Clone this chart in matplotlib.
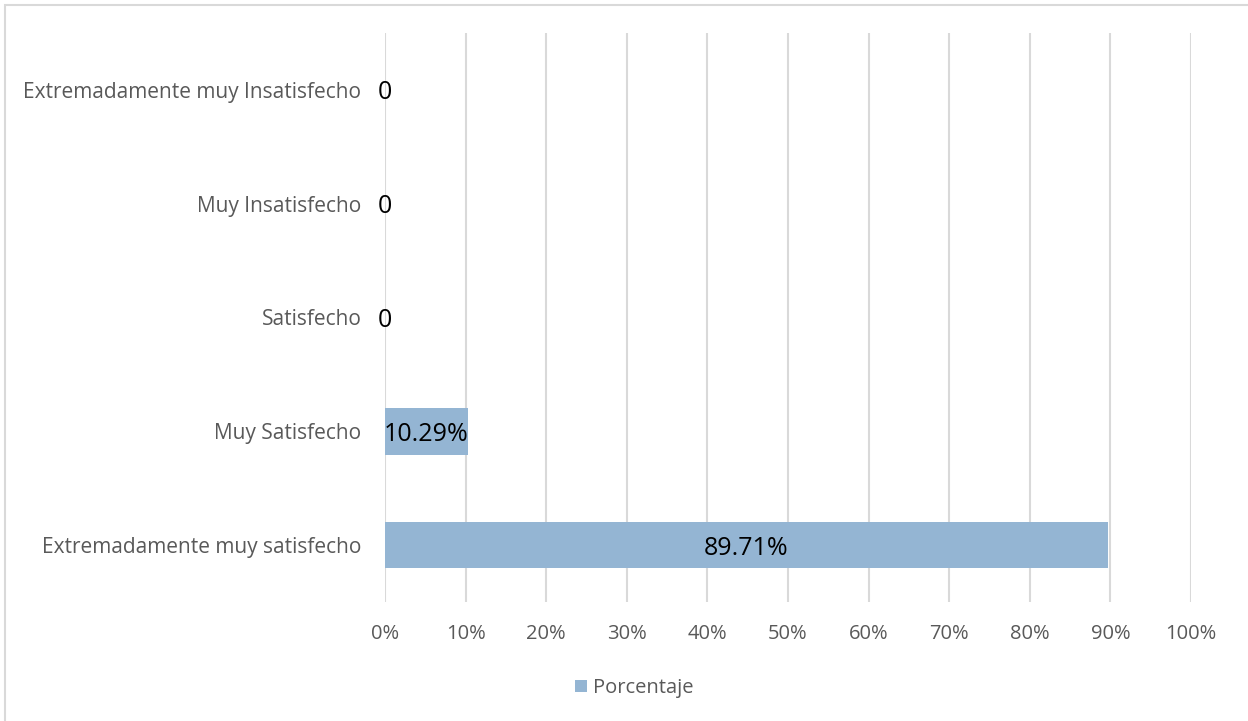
import matplotlib
matplotlib.use("Agg")
import matplotlib.pyplot as plt
from matplotlib.patches import Rectangle
from matplotlib.transforms import offset_copy

categories = ["Extremadamente muy satisfecho", "Muy Satisfecho", "Satisfecho",
              "Muy Insatisfecho", "Extremadamente muy Insatisfecho"]
values = [89.71, 10.29, 0, 0, 0]
labels = ["89.71%", "10.29%", "0", "0", "0"]
xticks = list(range(0, 101, 10))
xtick_labels = [f"{t}%" for t in xticks]
series_name = "Porcentaje"

plt.rcParams['font.family'] = ['Open Sans', 'DejaVu Sans']

fig = plt.figure(figsize=(12.48, 7.21), dpi=100)
ax = fig.add_axes([385/1248, 1-602/721, (1191-385)/1248, (602-33)/721])

bar_color = "#94b5d3"
bars = ax.barh(range(len(categories)), values, height=0.41, color=bar_color, label=series_name, zorder=3)
lab_tr = offset_copy(ax.transData, fig=fig, x=0, y=-3, units="dots")
for i, (v, lab) in enumerate(zip(values, labels)):
    ax.text(v/2, i, lab, ha="center", va="center", fontsize=18, color="black", zorder=4,
            transform=lab_tr)

ax.set_xlim(0, 100)
ax.set_ylim(-0.5, len(categories)-0.5)
ax.set_xticks(xticks)
ax.set_xticklabels(xtick_labels, fontsize=14.5, color="#595959")
ax.set_yticks(range(len(categories)))
ax.set_yticklabels(categories, fontsize=15, color="#595959")
ax.tick_params(axis="both", length=0)
ax.tick_params(axis="x", pad=16)
ax.tick_params(axis="y", pad=17)
ax.grid(axis="x", color="#d9d9d9", linewidth=1.5, zorder=0)
for s in ax.spines.values():
    s.set_visible(False)

leg = fig.legend(handles=[bars], labels=[series_name], loc="center", bbox_to_anchor=(634/1248, 1-688/721),
                 frameon=False, fontsize=14.5, handlelength=0.6, handleheight=0.6, handletextpad=0.3)
for t in leg.get_texts():
    t.set_color("#595959")

# outer frame (left/top visible)
fig.add_artist(Rectangle((5/1248, -0.05), 1.2, 1-5/721+0.05, transform=fig.transFigure,
                         fill=False, edgecolor="#d9d9d9", linewidth=1.5))

fig.savefig("out.png", dpi=100)
